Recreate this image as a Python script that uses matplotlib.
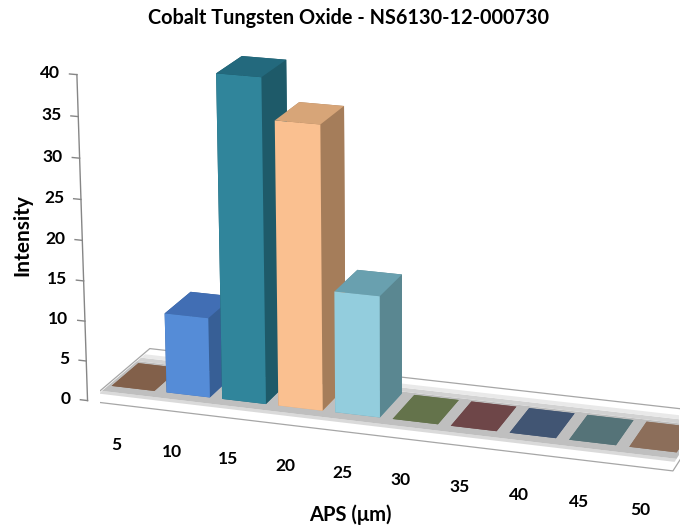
import numpy as np
import matplotlib.pyplot as plt
from matplotlib.lines import Line2D
from mpl_toolkits.mplot3d import proj3d
from mpl_toolkits.mplot3d.art3d import Poly3DCollection

plt.rcParams['font.family'] = ['Lato', 'DejaVu Sans']

# data
sizes = ['5', '10', '15', '20', '25', '30', '35', '40', '45', '50']
intensity = [0, 10, 40, 35, 15, 0, 0, 0, 0, 0]
z_ticks = [0, 5, 10, 15, 20, 25, 30, 35, 40]

# colours per bar: front, right side, top
front_col = ['#82604a', '#558cd7', '#30859b', '#fac090', '#93cddd',
             '#64734b', '#6e4648', '#415573', '#557378', '#8c6e5a']
side_col = ['#82604a', '#375f96', '#1e5a69', '#a57d5a', '#5a8791',
            '#64734b', '#6e4648', '#415573', '#557378', '#8c6e5a']
top_col = ['#82604a', '#416eb4', '#23697d', '#d7a578', '#69a0af',
           '#64734b', '#6e4648', '#415573', '#557378', '#8c6e5a']

fig = plt.figure(figsize=(6.98, 5.26), dpi=100)
ax = fig.add_axes([0.058, -0.031, 1.0, 1.1], projection='3d')
ax.set_proj_type('persp', focal_length=1.0)
ax.view_init(elev=18, azim=-72)
ax.set_xlim(-0.5, 9.5)
ax.set_ylim(0, 3)
ax.set_zlim(0, 40)
ax.set_box_aspect((0.96, 0.26, 0.54), zoom=1.21)
ax.set_axis_off()
ax.computed_zorder = False

# floor
x0, x1 = -0.5, len(sizes) - 0.5
floor = Poly3DCollection([[(x0, 0, 0), (x1, 0, 0), (x1, 3, 0), (x0, 3, 0)]],
                         facecolor='white', edgecolor='#a6a6a6', linewidth=0.9, zorder=1)
ax.add_collection3d(floor)
bands = [(0.40, 0.55, '#dadada'), (0.55, 2.25, '#bfbfbf'),
         (2.25, 2.45, '#d2d2d2'), (2.45, 2.65, '#e9e9e9')]
for ya, yb, c in bands:
    ax.add_collection3d(Poly3DCollection(
        [[(x0 + 0.05, ya, 0), (x1 - 0.05, ya, 0), (x1 - 0.05, yb, 0), (x0 + 0.05, yb, 0)]],
        facecolor=c, edgecolor='none', zorder=1))

# bars
xpos = np.arange(len(sizes))
width, depth, yb0 = 0.78, 1.3, 0.85
faces = []
for i in range(len(sizes)):
    # bar3d face order: -z, +z, -y, +y, -x, +x
    faces += [top_col[i], top_col[i], front_col[i], side_col[i], side_col[i], side_col[i]]
ax.bar3d(xpos - width / 2, np.full(len(sizes), yb0), np.zeros(len(sizes)),
         width, depth, intensity, color=faces, shade=False, zorder=3)

# project 3d points to figure coordinates (mplot3d clips lines outside its box)
fig.canvas.draw()
to_fig = fig.transFigure.inverted()


def proj(x, y, z):
    px, py, _ = proj3d.proj_transform(np.atleast_1d(x), np.atleast_1d(y),
                                      np.atleast_1d(z), ax.M)
    pts = to_fig.transform(ax.transData.transform(np.column_stack([px, py])))
    return pts[:, 0], pts[:, 1]


def seg(xs, ys, zs):
    fx, fy = proj(xs, ys, zs)
    fig.add_artist(Line2D(fx, fy, color='#868686', lw=1, transform=fig.transFigure))


# vertical axis with ticks
seg([x0, x0], [0, 0], [z_ticks[0], z_ticks[-1]])
for v in z_ticks:
    seg([x0 - 0.13, x0], [0, 0], [v, v])
    fx, fy = proj(x0 - 0.3, 0, v)
    fig.text(fx[0], fy[0], str(v), ha='right', va='center',
             fontsize=12.5, fontweight='bold')

for i, s in enumerate(sizes):
    fx, fy = proj(i, 0, -5.2)
    fig.text(fx[0], fy[0], s, ha='center', va='center',
             fontsize=12.5, fontweight='bold')

fig.text(0.5, 1 - 18 / 526, 'Cobalt Tungsten Oxide - NS6130-12-000730',
         ha='center', va='center', fontsize=14.3, fontweight='bold')
fig.text(22 / 698, 1 - 235 / 526, 'Intensity', rotation=90,
         ha='center', va='center', fontsize=15, fontweight='bold')
fig.text(350 / 698, 1 - 515 / 526, 'APS (μm)',
         ha='center', va='center', fontsize=14.5, fontweight='bold')

fig.savefig('out.png', dpi=100)
